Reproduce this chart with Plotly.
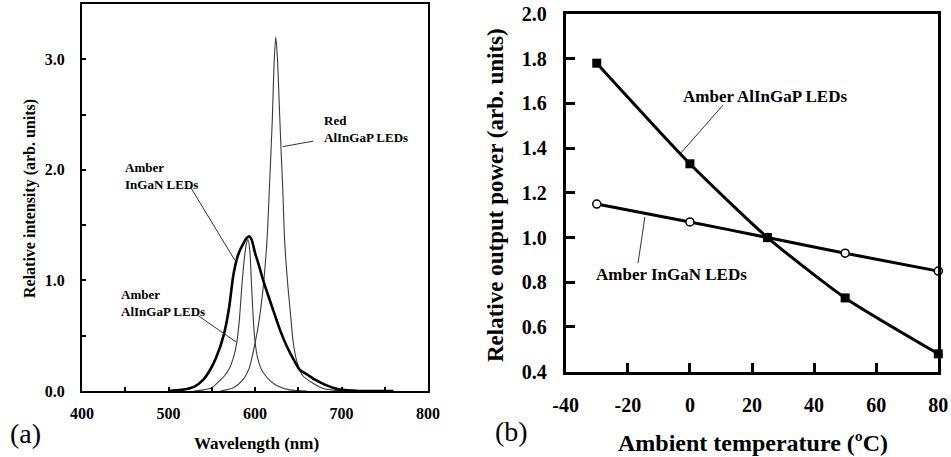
import plotly.graph_objects as go

# ---------- Panel (a): emission spectra ----------
wl_ingan = [500, 515, 530, 540, 548, 555, 564, 570, 575, 580, 583, 587, 590, 593, 596,
            600, 604, 608, 612, 618, 625, 630, 637, 645, 652, 660, 670, 680, 690, 700, 720, 760]
int_ingan = [0.0, 0.01, 0.04, 0.1, 0.19, 0.3, 0.51, 0.75, 1.05, 1.22, 1.28, 1.34, 1.38, 1.4, 1.37,
             1.25, 1.15, 1.04, 0.94, 0.8, 0.64, 0.53, 0.4, 0.28, 0.19, 0.15, 0.1, 0.06, 0.03, 0.01, 0.0, 0.0]

wl_amber = [530, 540, 550, 560, 565, 570, 575, 579, 582, 585, 588, 590, 592, 594, 596,
            598, 600, 603, 607, 612, 618, 625, 640, 660]
int_amber = [0.0, 0.01, 0.03, 0.1, 0.14, 0.2, 0.3, 0.44, 0.65, 0.97, 1.22, 1.33, 1.37, 1.27, 0.96,
             0.65, 0.45, 0.3, 0.2, 0.14, 0.09, 0.05, 0.01, 0.0]

wl_red = [560, 575, 586, 593, 600, 605, 610, 614, 617, 620, 622, 624, 626, 628, 630,
          632, 634, 636, 638, 641, 644, 648, 655, 667, 680, 700]
int_red = [0.0, 0.03, 0.1, 0.2, 0.43, 0.65, 0.98, 1.38, 1.9, 2.45, 2.95, 3.2, 3.0, 2.6, 2.2,
           1.85, 1.4, 1.15, 0.95, 0.7, 0.45, 0.28, 0.14, 0.07, 0.02, 0.0]

a_xticks = [400, 450, 500, 550, 600, 650, 700, 750, 800]
a_xlabels = ["400", "", "500", "", "600", "", "700", "", "800"]
a_yticks = [0.0, 0.5, 1.0, 1.5, 2.0, 2.5, 3.0]
a_ylabels = ["0.0", "", "1.0", "", "2.0", "", "3.0"]

# ---------- Panel (b): output power vs temperature ----------
temp = [-30, 0, 25, 50, 80]
p_alingap = [1.78, 1.33, 1.0, 0.73, 0.48]
p_ingan = [1.15, 1.07, 1.0, 0.93, 0.85]
b_xticks = [-40, -20, 0, 20, 40, 60, 80]
b_xlabels = ["-40", "-20", "0", "20", "40", "60", "80"]
b_yticks = [0.4, 0.6, 0.8, 1.0, 1.2, 1.4, 1.6, 1.8, 2.0]

FONT = "Liberation Serif, Times New Roman, serif"
W, H = 951, 457

def px_x(a, b):
    return [a / W, b / W]

def px_y(top, bottom):
    return [(H - bottom) / H, (H - top) / H]

fig = go.Figure()

fig.add_trace(go.Scatter(x=wl_amber, y=int_amber, mode="lines", line=dict(color="#3a3a3a", width=1.1, shape="spline", smoothing=0.7),
                         xaxis="x", yaxis="y", showlegend=False))
fig.add_trace(go.Scatter(x=wl_red, y=int_red, mode="lines", line=dict(color="#3a3a3a", width=1.1, shape="spline", smoothing=0.7),
                         xaxis="x", yaxis="y", showlegend=False))
fig.add_trace(go.Scatter(x=wl_ingan, y=int_ingan, mode="lines", line=dict(color="black", width=2.6, shape="spline", smoothing=0.8),
                         xaxis="x", yaxis="y", showlegend=False))

fig.add_trace(go.Scatter(x=temp, y=p_ingan, mode="lines+markers",
                         line=dict(color="black", width=3, shape="spline", smoothing=0.6),
                         marker=dict(symbol="circle", size=8, color="white", line=dict(color="black", width=1.5)),
                         xaxis="x2", yaxis="y2", showlegend=False, cliponaxis=False))
fig.add_trace(go.Scatter(x=temp, y=p_alingap, mode="lines+markers",
                         line=dict(color="black", width=3, shape="spline", smoothing=0.6),
                         marker=dict(symbol="square", size=9, color="black"),
                         xaxis="x2", yaxis="y2", showlegend=False, cliponaxis=False))

axis_common = dict(showline=True, linecolor="black", mirror=True, ticks="inside", automargin=False,
                   tickcolor="black", showgrid=False, zeroline=False)

fig.update_layout(
    width=W, height=H, margin=dict(l=0, r=0, t=0, b=0, autoexpand=False),
    paper_bgcolor="white", plot_bgcolor="white",
    xaxis=dict(domain=px_x(82, 428), range=[400, 800], tickvals=a_xticks, ticktext=a_xlabels,
               linewidth=2, ticklen=4, tickwidth=1.5, ticklabelstandoff=7,
               tickfont=dict(family=FONT, size=16, color="black", weight="bold"), anchor="y", **axis_common),
    yaxis=dict(domain=px_y(4, 391), range=[0, 3.5], tickvals=a_yticks, ticktext=a_ylabels,
               linewidth=2, ticklen=4, tickwidth=1.5, ticklabelstandoff=12,
               tickfont=dict(family=FONT, size=16, color="black", weight="bold"), anchor="x", **axis_common),
    xaxis2=dict(domain=px_x(565.7, 938.3), range=[-40, 80], tickvals=b_xticks, ticktext=b_xlabels,
                linewidth=3, ticklen=9, tickwidth=2.5, ticklabelstandoff=13,
                tickfont=dict(family=FONT, size=20, color="black", weight="bold"), anchor="y2", **axis_common),
    yaxis2=dict(domain=px_y(14, 371.7), range=[0.4, 2.0], tickvals=b_yticks, tickformat=".1f",
                linewidth=3, ticklen=9, tickwidth=2.5, ticklabelstandoff=12,
                tickfont=dict(family=FONT, size=20, color="black", weight="bold"), anchor="x2", **axis_common),
)

def note(text, x, y, size, bold=True, xanchor="center", yanchor="middle", angle=0, xref="paper", yref="paper", align="center"):
    fig.add_annotation(text=text, x=x, y=y, xref=xref, yref=yref, showarrow=False,
                       xanchor=xanchor, yanchor=yanchor, textangle=angle, align=align,
                       font=dict(family=FONT, size=size, color="black", weight="bold" if bold else "normal"))

# axis titles
note("Wavelength (nm)", 256 / W, 1 - 443 / H, 17)
note("Relative intensity (arb. units)", 30 / W, 1 - 199 / H, 16, angle=-90)
note("Ambient temperature (ºC)", 753 / W, 1 - 443 / H, 24)
note("Relative output power (arb. units)", 495 / W, 1 - 195 / H, 23, angle=-90)
note("(a)", 25 / W, 1 - 433 / H, 28, bold=False)
note("(b)", 511 / W, 1 - 431 / H, 28, bold=False)

# panel (a) labels
note("Red<br>AlInGaP LEDs", 677, 2.53, 13, xanchor="left", yanchor="top", xref="x", yref="y", align="left")
note("Amber<br>InGaN LEDs", 447, 2.11, 13, xanchor="left", yanchor="top", xref="x", yref="y", align="left")
note("Amber<br>AlInGaP LEDs", 442.8, 0.96, 13, xanchor="left", yanchor="top", xref="x", yref="y", align="left")
# panel (b) labels
note("Amber AlInGaP LEDs", 24.2, 1.633, 17, xref="x2", yref="y2")
note("Amber InGaN LEDs", -5.8, 0.837, 17, xref="x2", yref="y2")

leaders = [
    ("x", "y", 667.4, 2.26, 632, 2.21),
    ("x", "y", 525.7, 1.84, 576.9, 1.18),
    ("x", "y", 534.5, 0.68, 578.8, 0.44),
    ("x2", "y2", 10.7, 1.593, -2.9, 1.378),
    ("x2", "y2", -16.7, 0.886, -14.5, 1.092),
]
for xr, yr, x0, y0, x1, y1 in leaders:
    fig.add_shape(type="line", xref=xr, yref=yr, x0=x0, y0=y0, x1=x1, y1=y1,
                  line=dict(color="#333", width=1))

fig.write_html("out.html")
